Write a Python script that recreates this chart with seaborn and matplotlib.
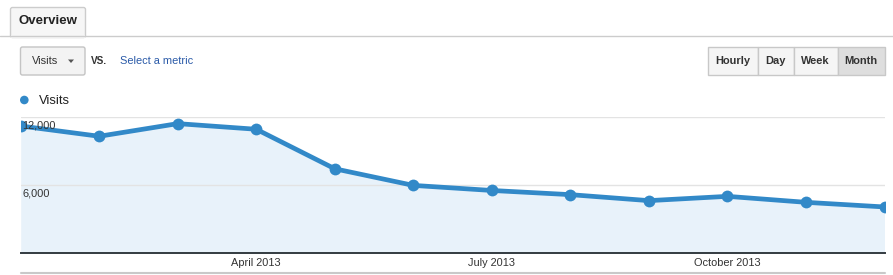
import matplotlib
matplotlib.use("Agg")
import matplotlib.pyplot as plt
import matplotlib.patches as mpatches
import matplotlib.transforms as mtransforms
import seaborn as sns
import pandas as pd

# ---- data ----
months = ["Jan 2013", "Feb 2013", "Mar 2013", "Apr 2013", "May 2013", "Jun 2013",
          "Jul 2013", "Aug 2013", "Sep 2013", "Oct 2013", "Nov 2013", "Dec 2013"]
visits = [11230, 10320, 11440, 10940, 7440, 5970, 5520, 5150, 4620, 5000, 4470, 4060]
xtick_idx = [3, 6, 9]
xtick_labels = ["April 2013", "July 2013", "October 2013"]
ytick_vals = [6000, 12000]
ytick_labels = ["6,000", "12,000"]
buttons = ["Hourly", "Day", "Week", "Month"]

sns.set_theme(style="white")
plt.rcParams["font.family"] = ["Liberation Sans", "DejaVu Sans"]

W, H = 893, 275
DPI = 100
fig = plt.figure(figsize=(W / DPI, H / DPI), dpi=DPI)
fig.patch.set_facecolor("white")

LINE = "#3289c8"
FILL = "#e8f2fa"

def px(v):  # pixel font size -> points
    return v * 72 / DPI

# ---- chart axes ----
x0, x1 = 20.7, 884.5
ytop, ybot = 117.3, 252.8
ax = fig.add_axes([x0 / W, 1 - ybot / H, (x1 - x0) / W, (ybot - ytop) / H])
df = pd.DataFrame({"idx": range(len(months)), "month": months, "visits": visits})
ax.fill_between(df["idx"], df["visits"], 0, color=FILL, zorder=1, linewidth=0)
sns.lineplot(data=df, x="idx", y="visits", ax=ax, color=LINE, linewidth=3.4,
             marker="o", markersize=8.5, markeredgewidth=0, zorder=3)
ax.set_xlim(0, len(months) - 1)
ax.set_ylim(0, 12000)
for v in ytick_vals:
    ax.axhline(v, color="#e3e3e3", linewidth=1, zorder=2)
for sp in ["top", "right", "left"]:
    ax.spines[sp].set_visible(False)
ax.spines["bottom"].set_color("#333b40")
ax.spines["bottom"].set_linewidth(1.4)
ax.set_yticks([])
ax.set_xticks(xtick_idx)
ax.set_xticklabels(xtick_labels, fontsize=px(11), color="#333333")
ax.tick_params(axis="x", length=0, pad=4)
ax.set_xlabel("")
ax.set_ylabel("")
ax.set_facecolor("white")
trans = mtransforms.blended_transform_factory(ax.transAxes, ax.transData)
for v, lab in zip(ytick_vals, ytick_labels):
    ax.annotate(lab, xy=(0, v), xycoords=trans, xytext=(1.5, -8),
                textcoords="offset pixels", ha="left", va="center",
                fontsize=px(11), color="#333333", zorder=4)

# ---- overlay for UI chrome (pixel coordinates) ----
ov = fig.add_axes([0, 0, 1, 1], zorder=-1)
ov.set_xlim(0, W)
ov.set_ylim(H, 0)
ov.axis("off")
ov.patch.set_alpha(0)

# header line and tab
ov.plot([0, W], [35.5, 35.5], color="#cccccc", linewidth=1)
ov.add_patch(mpatches.FancyBboxPatch((10.5, 7.5), 75, 30, boxstyle="round,pad=0,rounding_size=2",
                                     facecolor="#f6f6f6", edgecolor="#cccccc", linewidth=1))
ov.add_patch(mpatches.Rectangle((11, 34.5), 74, 3, facecolor="#f6f6f6", edgecolor="none"))
ov.text(48, 21.5, "Overview", ha="center", va="center", fontsize=px(13.2),
        fontweight="bold", color="#222222")

# metric dropdown
ov.add_patch(mpatches.FancyBboxPatch((20.5, 47), 64.5, 28, boxstyle="round,pad=0,rounding_size=2",
                                     facecolor="#f3f3f3", edgecolor="#c4c4c4", linewidth=1))
ov.text(32, 61.5, "Visits", ha="left", va="center", fontsize=px(11), color="#333333")
ov.add_patch(mpatches.Polygon([[68, 59.5], [74, 59.5], [71, 63]], closed=True,
                              facecolor="#555555", edgecolor="none"))
ov.text(90.5, 60.5, "VS.", ha="left", va="center", fontsize=px(10), fontweight="bold",
        color="#333333")
ov.text(119.5, 61.5, "Select a metric", ha="left", va="center", fontsize=px(11),
        color="#2a5aa8")

# period buttons
edges = [707.5, 757.5, 793.5, 837.5, 885]
for i, lab in enumerate(buttons):
    sel = i == len(buttons) - 1
    ov.add_patch(mpatches.Rectangle((edges[i], 46.5), edges[i + 1] - edges[i], 28.5,
                                    facecolor="#dedede" if sel else "#f5f5f5",
                                    edgecolor="#c8c8c8", linewidth=1))
    ov.text((edges[i] + edges[i + 1]) / 2, 61.5, lab, ha="center", va="center",
            fontsize=px(11), fontweight="bold", color="#333333")

# legend
ov.add_patch(mpatches.Circle((24.3, 100), 4.3, facecolor=LINE, edgecolor="none"))
ov.text(38.5, 100.5, "Visits", ha="left", va="center", fontsize=px(13), color="#222222")

# bottom line
ov.plot([21, 885], [273, 273], color="#c9c9c9", linewidth=1.5)

fig.savefig("out.png", dpi=DPI, facecolor="white")
